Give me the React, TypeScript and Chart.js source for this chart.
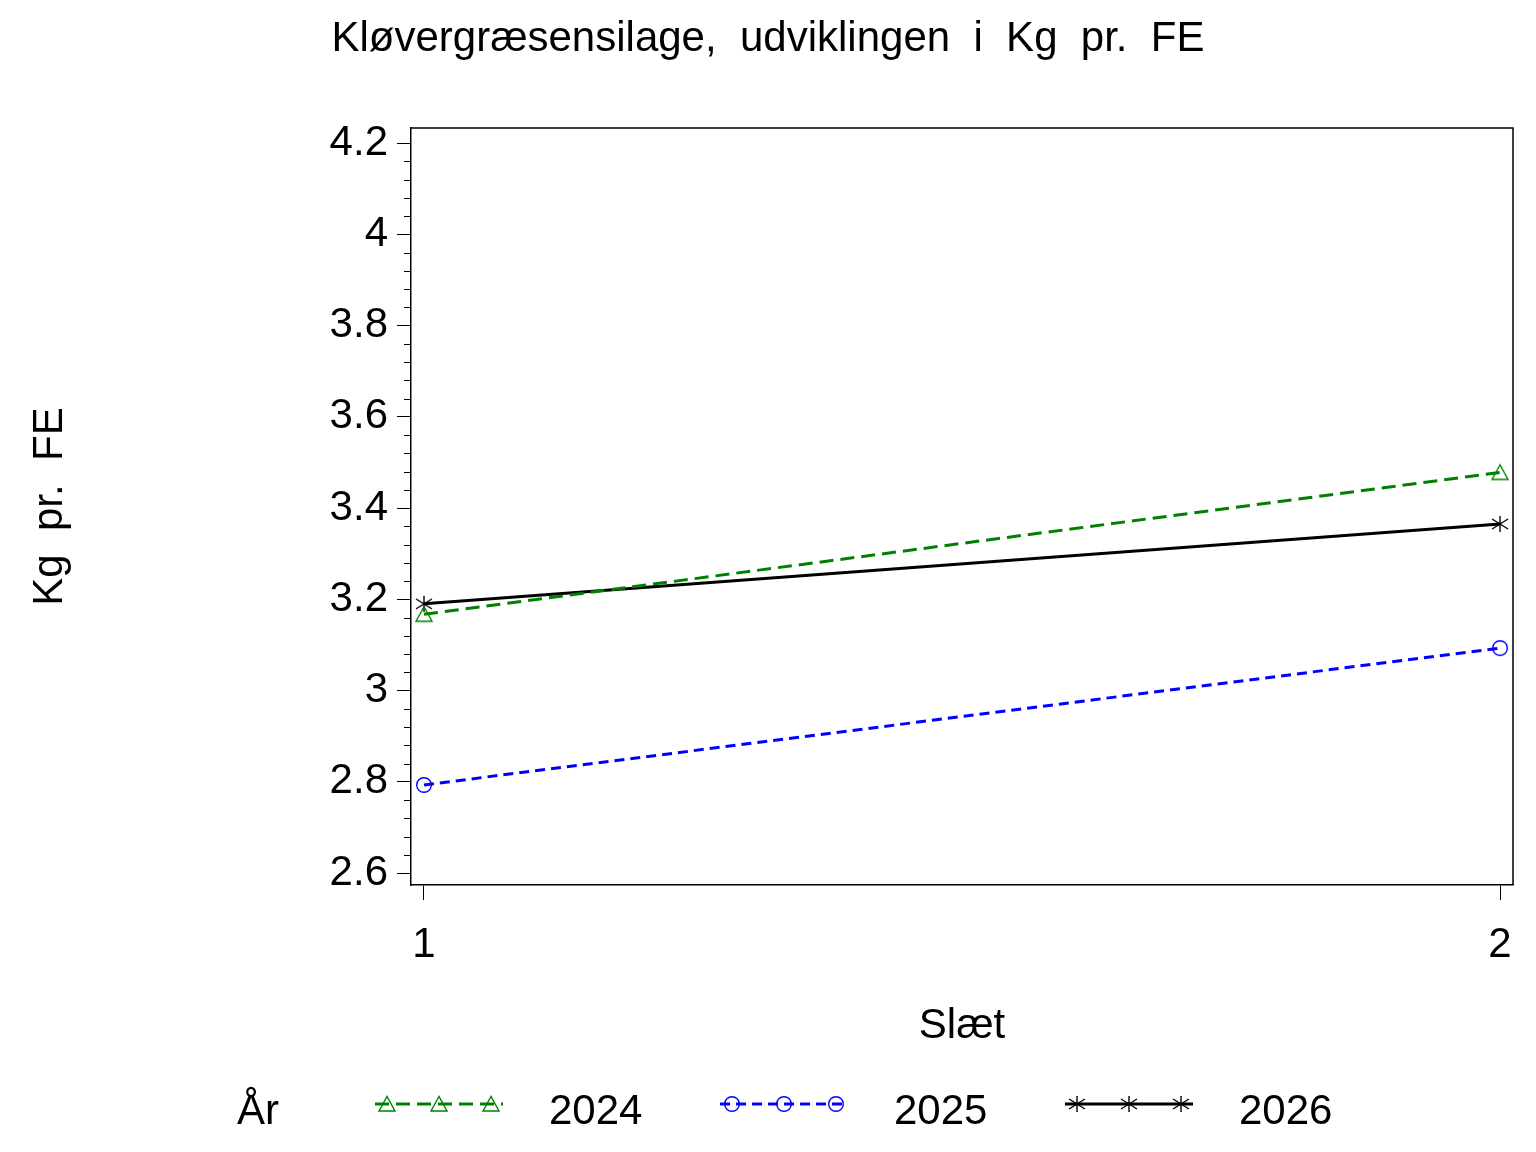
import { useEffect, useRef } from 'react';
import { Chart, registerables } from 'chart.js';

Chart.register(...registerables);

// Slæt (x) and Kg pr. FE per year
const slaet = [1, 2];
const years = ['2024', '2025', '2026'];
const kg2024 = [3.167, 3.478];
const kg2025 = [2.793, 3.093];
const kg2026 = [3.19, 3.365];
const yMajorTicks = [2.6, 2.8, 3, 3.2, 3.4, 3.6, 3.8, 4, 4.2];

const FONT = '"Liberation Sans", Arial, Helvetica, sans-serif';
const GREEN = '#008000';
const BLUE = '#0000ff';
const BLACK = '#000000';

// 4 minor ticks between each pair of major ticks
const yAllTicks: number[] = [];
yMajorTicks.forEach((v, i) => {
  yAllTicks.push(v);
  const next = yMajorTicks[i + 1];
  if (next !== undefined) {
    for (let k = 1; k < 5; k++) yAllTicks.push(+(v + ((next - v) * k) / 5).toFixed(4));
  }
});
const isMajor = (v: number) => yMajorTicks.some((m) => Math.abs(m - v) < 1e-6);

function makeMarker(kind: string, color: string) {
  const c = document.createElement('canvas');
  c.width = 20;
  c.height = 20;
  const g = c.getContext('2d')!;
  g.strokeStyle = color;
  g.lineWidth = 1.4;
  g.beginPath();
  if (kind === 'triangle') {
    g.moveTo(10, 2.5);
    g.lineTo(2, 17);
    g.lineTo(18, 17);
    g.closePath();
  } else if (kind === 'circle') {
    g.arc(10, 10, 7.3, 0, Math.PI * 2);
  } else {
    g.moveTo(10, 2);
    g.lineTo(10, 18);
    g.moveTo(2, 5);
    g.lineTo(18, 15);
    g.moveTo(2, 15);
    g.lineTo(18, 5);
  }
  g.stroke();
  return c;
}

const decorPlugin = {
  id: 'decor',
  afterDraw(chart: any) {
    const { ctx, chartArea: a, scales } = chart;
    const y = scales.y;
    ctx.save();
    // frame top + right
    ctx.strokeStyle = BLACK;
    ctx.lineWidth = 1.5;
    ctx.beginPath();
    ctx.moveTo(a.left, a.top);
    ctx.lineTo(a.right, a.top);
    ctx.lineTo(a.right, a.bottom);
    ctx.stroke();
    // minor y ticks
    ctx.lineWidth = 1;
    ctx.beginPath();
    y.ticks.forEach((t: any) => {
      if (isMajor(t.value)) return;
      const py = Math.round(y.getPixelForValue(t.value)) + 0.5;
      ctx.moveTo(a.left - 7, py);
      ctx.lineTo(a.left, py);
    });
    ctx.stroke();

    // legend
    const ly = 1104;
    ctx.fillStyle = BLACK;
    ctx.font = `42px ${FONT}`;
    ctx.textBaseline = 'middle';
    ctx.textAlign = 'left';
    ctx.fillText('År', 237, 1112);
    chart.data.datasets.forEach((ds: any, i: number) => {
      const sx = 375 + 345 * i;
      ctx.strokeStyle = ds.borderColor;
      ctx.lineWidth = ds.borderWidth;
      ctx.setLineDash(ds.borderDash || []);
      ctx.beginPath();
      ctx.moveTo(sx, ly);
      ctx.lineTo(sx + 128, ly);
      ctx.stroke();
      ctx.setLineDash([]);
      [12, 64, 116].forEach((off) => {
        const m = ds.pointStyle as HTMLCanvasElement;
        ctx.drawImage(m, sx + off - m.width / 2, ly - m.height / 2);
      });
      ctx.fillStyle = BLACK;
      ctx.fillText(ds.label, sx + 174, 1112);
    });
    ctx.restore();
  },
};

export default function App() {
  const canvasRef = useRef<HTMLCanvasElement>(null);
  const chartRef = useRef<any>(null);

  useEffect(() => {
    document.body.style.margin = '0';
    if (!canvasRef.current) return;
    if (chartRef.current) chartRef.current.destroy();

    Chart.defaults.font.family = FONT;
    Chart.defaults.color = BLACK;

    const triangle = makeMarker('triangle', GREEN);
    const circle = makeMarker('circle', BLUE);
    const star = makeMarker('star', BLACK);

    const series = [
      { values: kg2024, color: GREEN, dash: [14, 7], marker: triangle },
      { values: kg2025, color: BLUE, dash: [10, 6], marker: circle },
      { values: kg2026, color: BLACK, dash: [], marker: star },
    ];

    chartRef.current = new Chart(canvasRef.current, {
      type: 'line',
      data: {
        datasets: series.map((s, i) => ({
          label: years[i],
          data: slaet.map((x, j) => ({ x, y: s.values[j] })),
          borderColor: s.color,
          borderWidth: 3,
          borderDash: s.dash,
          pointStyle: s.marker as any,
          pointRadius: 9,
          pointHoverRadius: 9,
          fill: false,
          tension: 0,
        })),
      },
      options: {
        responsive: true,
        maintainAspectRatio: false,
        animation: false,
        layout: { padding: { left: 23, right: 23, top: 0, bottom: 100 } },
        plugins: {
          legend: { display: false },
          tooltip: { enabled: false },
          title: {
            display: true,
            text: 'Kløvergræsensilage,  udviklingen  i  Kg  pr.  FE',
            color: BLACK,
            font: { size: 42, weight: 'normal', family: FONT },
            padding: { top: 14.5, bottom: 63.1 },
          },
        },
        scales: {
          x: {
            type: 'linear',
            min: 0.98792,
            max: 2.01208,
            afterBuildTicks: (s: any) => {
              s.ticks = slaet.map((v) => ({ value: v }));
            },
            afterFit: (s: any) => {
              s.height = 167;
            },
            ticks: {
              autoSkip: false,
              padding: 20,
              color: BLACK,
              font: { size: 42, family: FONT },
              callback: (v: any) => String(v),
            },
            grid: {
              drawOnChartArea: false,
              tickLength: 15,
              tickColor: BLACK,
              tickWidth: 1,
            },
            border: { display: true, color: BLACK, width: 1.5 },
            title: {
              display: true,
              text: 'Slæt',
              color: BLACK,
              font: { size: 42, family: FONT },
              padding: { top: 0, bottom: 0 },
            },
          },
          y: {
            type: 'linear',
            min: 2.5737,
            max: 4.2329,
            afterBuildTicks: (s: any) => {
              s.ticks = yAllTicks.map((v) => ({ value: v }));
            },
            afterFit: (s: any) => {
              s.width = 388;
            },
            ticks: {
              autoSkip: false,
              padding: 9,
              color: BLACK,
              font: { size: 42, family: FONT },
              callback: (v: any) => (isMajor(v) ? String(+(+v).toFixed(1)) : ''),
            },
            grid: {
              drawOnChartArea: false,
              tickLength: 14,
              tickWidth: 1,
              tickColor: (c: any) => (c.tick && isMajor(c.tick.value) ? BLACK : 'rgba(0,0,0,0)'),
            },
            border: { display: true, color: BLACK, width: 1.5 },
            title: {
              display: true,
              text: 'Kg  pr.  FE',
              color: BLACK,
              font: { size: 42, family: FONT },
              padding: { top: 2, bottom: 0 },
            },
          },
        },
      },
      plugins: [decorPlugin],
    });

    return () => {
      if (chartRef.current) {
        chartRef.current.destroy();
        chartRef.current = null;
      }
    };
  }, []);

  return (
    <div style={{ width: 1536, height: 1152, position: 'relative', background: '#fff' }}>
      <canvas ref={canvasRef}></canvas>
    </div>
  );
}
